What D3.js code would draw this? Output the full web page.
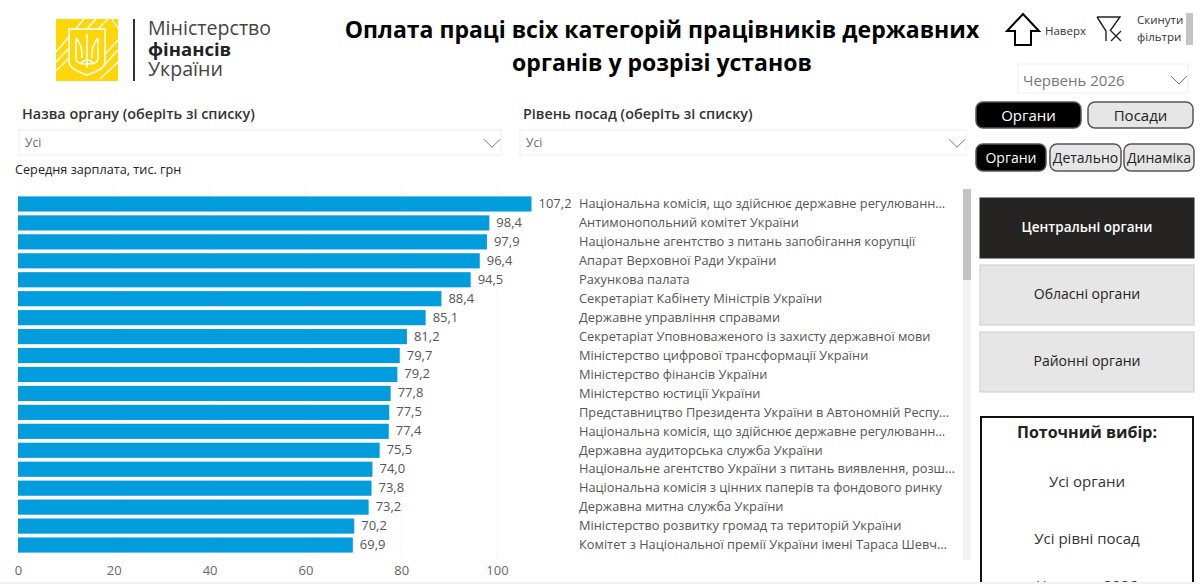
<!DOCTYPE html>
<html><head><meta charset="utf-8">
<script src="https://cdn.jsdelivr.net/npm/d3@7"></script>
<style>html,body{margin:0;padding:0;background:#fff;overflow:hidden}svg{display:block}text{font-family:"Open Sans",sans-serif}</style>
</head><body><svg id="c" width="1200" height="584"></svg>
<script>
const categories=["Національна комісія, що здійснює державне регулюванн…","Антимонопольний комітет України","Національне агентство з питань запобігання корупції","Апарат Верховної Ради України","Рахункова палата","Секретаріат Кабінету Міністрів України","Державне управління справами","Секретаріат Уповноваженого із захисту державної мови","Міністерство цифрової трансформації України","Міністерство фінансів України","Міністерство юстиції України","Представництво Президента України в Автономній Респу…","Національна комісія, що здійснює державне регулюванн…","Державна аудиторська служба України","Національне агентство України з питань виявлення, розш…","Національна комісія з цінних паперів та фондового ринку","Державна митна служба України","Міністерство розвитку громад та територій України","Комітет з Національної премії України імені Тараса Шевч…"];
const values=[107.2,98.4,97.9,96.4,94.5,88.4,85.1,81.2,79.7,79.2,77.8,77.5,77.4,75.5,74.0,73.8,73.2,70.2,69.9];
const xTicks=[0,20,40,60,80,100];
const titleLines=["Оплата праці всіх категорій працівників державних","органів у розрізі установ"];
const navButtons=["Органи","Посади"];
const subButtons=["Органи","Детально","Динаміка"];
const levelButtons=["Центральні органи","Обласні органи","Районні органи"];
const selection=["Усі органи","Усі рівні посад","Червень 2026"];

const svg=d3.select("#c");
const fmt=v=>d3.format(".1f")(v).replace(".",",");
const x=d3.scaleLinear().domain([0,100]).range([18,497]);
const y=d3.scaleBand().domain(d3.range(categories.length)).range([194.5,554.5]).paddingInner(0.2).paddingOuter(0.1);

function T(px,py,s,o={}){return svg.append("text").attr("x",px).attr("y",py).text(s)
 .attr("font-size",o.size||13).attr("fill",o.fill||"#333").attr("font-weight",o.weight||400)
 .attr("text-anchor",o.anchor||"start").attr("dominant-baseline","middle");}

// grid
svg.append("g").selectAll("line").data(xTicks).join("line").attr("x1",d=>x(d)).attr("x2",d=>x(d)).attr("y1",188).attr("y2",558)
 .attr("stroke","#e6e6e6").attr("stroke-dasharray","1 3");

// bars
svg.append("g").selectAll("rect").data(values).join("rect")
 .attr("x",x(0)).attr("y",(d,i)=>y(i)).attr("width",d=>x(d)-x(0)).attr("height",y.bandwidth()).attr("fill","#019cdc");
svg.append("g").selectAll("text").data(values).join("text")
 .attr("x",d=>x(d)+7).attr("y",(d,i)=>y(i)+y.bandwidth()/2+0.5).text(fmt)
 .attr("font-size",13).attr("fill","#555").attr("dominant-baseline","middle");
svg.append("g").selectAll("text").data(categories).join("text")
 .attr("x",579).attr("y",(d,i)=>y(i)+y.bandwidth()/2+0.8).text(d=>d)
 .attr("font-size",12.8).attr("fill","#555").attr("dominant-baseline","middle");

// axis
const ax=svg.append("g").attr("transform","translate(0,558)").call(d3.axisBottom(x).tickValues(xTicks).tickSize(0).tickPadding(8));
ax.select(".domain").remove();
ax.selectAll("text").attr("font-size",13).attr("fill","#666").attr("font-family",'"Open Sans",sans-serif');

T(15,171,"Середня зарплата, тис. грн",{size:12.7,fill:"#222"});

// scrollbar
svg.append("rect").attr("x",963).attr("y",189).attr("width",8).attr("height",371).attr("fill","#f3f3f3");
svg.append("rect").attr("x",963).attr("y",189).attr("width",8).attr("height",91).attr("fill","#c4c4c4");

// title
titleLines.forEach((s,i)=>T(662,[32,65][i],s,{size:23,weight:700,fill:"#000",anchor:"middle"}));

// logo
const lg=svg.append("g");
lg.append("rect").attr("x",56).attr("y",19).attr("width",62).attr("height",62).attr("fill","#ffd60a");
[[56,52,84,19],[56,62,96,19],[56,71,108,19],[112,19,118,28],[100,60,118,40],[100,70,118,50],[100,79,118,62]].forEach(d=>
 lg.append("line").attr("x1",d[0]).attr("y1",d[1]).attr("x2",d[2]).attr("y2",d[3]).attr("stroke","#fff").attr("stroke-width",1.3));
lg.append("path").attr("d","M69 29H105V62Q105 69 87 75Q69 69 69 62Z").attr("fill","#ffd60a").attr("stroke","#fff").attr("stroke-width",1.5);
lg.append("path").attr("d","M87 34V68M76 38V59Q76 64 87 64Q98 64 98 59V38M76 38Q83 46 82 58M98 38Q91 46 92 58M80 64Q87 56 94 64").attr("fill","none").attr("stroke","#fff").attr("stroke-width",1.5);
lg.append("rect").attr("x",133).attr("y",19).attr("width",2).attr("height",62).attr("fill","#333");
T(148,30,"Міністерство",{size:19.6,fill:"#444"});
T(148,51,"фінансів",{size:18.5,weight:700,fill:"#222"});
T(148,71,"України",{size:19.6,fill:"#444"});

// top icons
svg.append("path").attr("d","M1023 14L1039 31H1031V45H1015V31H1007Z").attr("fill","#fff").attr("stroke","#000").attr("stroke-width",2);
T(1045,32,"Наверх",{size:11.5});
svg.append("path").attr("d","M1097 17H1120L1110 31M1097 17L1106 31V41").attr("fill","none").attr("stroke","#222").attr("stroke-width",1.4);
svg.append("path").attr("d","M1111 31L1121 41M1121 31L1111 41").attr("stroke","#222").attr("stroke-width",1.4);
T(1137,21,"Скинути",{size:11.5});T(1137,38,"фільтри",{size:11.5});
svg.append("rect").attr("x",1186).attr("y",13).attr("width",7).attr("height",32).attr("fill","#c4c4c4");

// dropdowns
function dd(px,py,w,h,s,size,tx,fill,dy){
 svg.append("rect").attr("x",px).attr("y",py).attr("width",w).attr("height",h).attr("fill","#fff").attr("stroke","#eee");
 T(tx,py+h/2+dy,s,{size,fill});
 const cx=px+w-9;
 svg.append("path").attr("d",`M${cx-8} ${py+h/2-4+dy/2}L${cx} ${py+h/2+4+dy/2}L${cx+8} ${py+h/2-4+dy/2}`).attr("fill","none").attr("stroke","#777");
}
dd(19,130,482,25,"Усі",12,25,"#666",1.5);
dd(520,130,446,25,"Усі",12,526,"#666",1.5);
dd(1018,64,170,29,"Червень 2026",15,1023,"#777",3);
T(22,115,"Назва органу (оберіть зі списку)",{size:14.4,weight:600,fill:"#333"});
T(523,115,"Рівень посад (оберіть зі списку)",{size:14.4,weight:600,fill:"#333"});

// buttons
function btn(px,py,w,h,s,on,size){
 svg.append("rect").attr("x",px).attr("y",py).attr("width",w).attr("height",h).attr("rx",7)
  .attr("fill",on?"#000":"#e6e6e6").attr("stroke","#555").attr("stroke-width",1.5);
 T(px+w/2,py+h/2+1.5,s,{size,fill:on?"#fff":"#222",anchor:"middle"});
}
navButtons.forEach((s,i)=>btn([976,1088][i],102,105,26,s,i==0,15));
const sx=[976,1050,1124],sw=[70,71,70];
subButtons.forEach((s,i)=>btn(sx[i],144,sw[i],27,s,i==0,14));

// levels
levelButtons.forEach((s,i)=>{const py=[198,265,332][i];
 svg.append("rect").attr("x",980).attr("y",py).attr("width",214).attr("height",60)
  .attr("fill",i==0?"#252423":"#e6e6e6").attr("stroke",i==0?"#252423":"#ccc");
 T(1087,py+30,s,{size:i==0?13.5:14,fill:i==0?"#fff":"#222",anchor:"middle",weight:i==0?600:400});
});

// current selection
svg.append("rect").attr("x",981).attr("y",417).attr("width",212).attr("height",190).attr("fill","#fff").attr("stroke","#111").attr("stroke-width",2);
T(1087,434,"Поточний вибір:",{size:16,weight:700,fill:"#222",anchor:"middle"});
selection.forEach((s,i)=>T(1087,[483,540,587][i],s,{size:15,fill:"#333",anchor:"middle"}));

// bottom strip
svg.append("rect").attr("x",0).attr("y",582).attr("width",1200).attr("height",2).attr("fill","#f2f2f2");
</script></body></html>
